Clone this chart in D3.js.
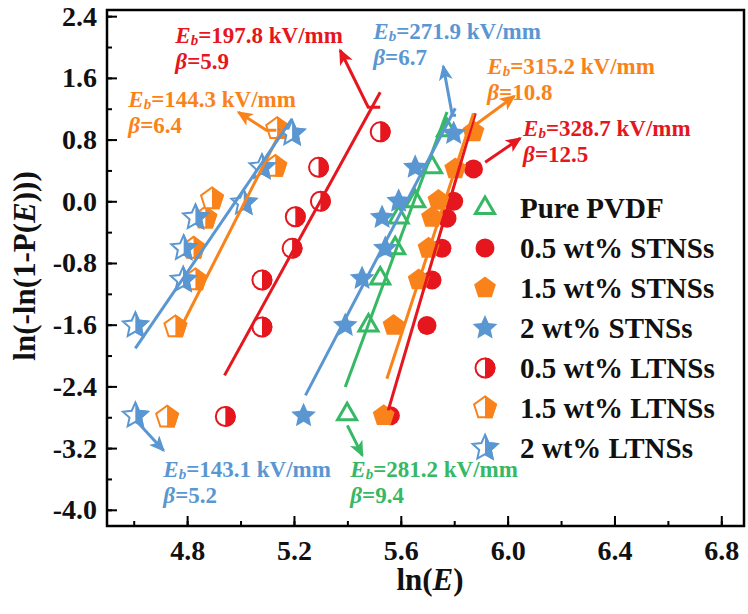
<!DOCTYPE html>
<html><head><meta charset="utf-8">
<script src="https://cdn.jsdelivr.net/npm/d3@7"></script>
<style>body{margin:0;background:#fff}svg{display:block}</style>
</head><body><svg id="c" width="748" height="614"></svg>
<script>
// ---------- data ----------
const xTicks = [4.8, 5.2, 5.6, 6.0, 6.4, 6.8];
const yTicks = [2.4, 1.6, 0.8, 0.0, -0.8, -1.6, -2.4, -3.2, -4.0];
const seriesNames = ["Pure PVDF", "0.5 wt% STNSs", "1.5 wt% STNSs", "2 wt% STNSs", "0.5 wt% LTNSs", "1.5 wt% LTNSs", "2 wt% LTNSs"];

const pvdfX = [5.399, 5.479, 5.523, 5.579, 5.592, 5.654, 5.717, 5.773];
const pvdfY = [-2.76, -1.61, -1.00, -0.61, -0.21, 0.00, 0.44, 0.92];
const s05X = [5.561, 5.698, 5.717, 5.754, 5.773, 5.798, 5.872];
const s05Y = [-2.78, -1.61, -1.02, -0.61, -0.22, 0.00, 0.42];
const s15X = [5.536, 5.573, 5.667, 5.704, 5.717, 5.741, 5.804, 5.872];
const s15Y = [-2.78, -1.61, -1.02, -0.61, -0.21, 0.01, 0.42, 0.90];
const s2X = [5.236, 5.392, 5.455, 5.542, 5.530, 5.592, 5.654, 5.798];
const s2Y = [-2.78, -1.61, -1.00, -0.61, -0.21, 0.00, 0.44, 0.88];
const l05X = [4.943, 5.080, 5.080, 5.193, 5.205, 5.299, 5.292, 5.523];
const l05Y = [-2.79, -1.63, -1.02, -0.61, -0.20, 0.00, 0.44, 0.90];
const l15X = [4.725, 4.756, 4.831, 4.824, 4.868, 4.893, 5.130, 5.137];
const l15Y = [-2.80, -1.63, -1.02, -0.61, -0.22, 0.03, 0.45, 0.94];
const l2X = [4.606, 4.606, 4.785, 4.787, 4.831, 5.012, 5.080, 5.193];
const l2Y = [-2.78, -1.61, -1.02, -0.61, -0.21, -0.02, 0.44, 0.88];

// fitted lines: [xStart, yStart, xEnd, yEnd]
const fitPVDF = [5.392, -2.409, 5.773, 1.158];
const fitS05 = [5.553, -2.711, 5.879, 1.141];
const fitS15 = [5.548, -2.300, 5.872, 1.137];
const fitS2 = [5.243, -2.516, 5.804, 1.206];
const fitL05 = [4.940, -2.257, 5.523, 1.414];
const fitL15 = [4.775, -1.650, 5.168, 1.025];
const fitL2 = [4.606, -1.907, 5.193, 1.070];

const ebValues = ["281.2", "328.7", "315.2", "271.9", "197.8", "144.3", "143.1"];
const betaValues = ["9.4", "12.5", "10.8", "6.7", "5.9", "6.4", "5.2"];

// ---------- annotation layout (data units) ----------
const labelX = [5.411, 6.058, 5.924, 5.497, 4.756, 4.580, 4.711];
const labelY = [-3.58, 0.843, 1.647, 2.101, 2.049, 1.219, -3.58];
const arrowPaths = [
  [[5.400, -2.905], [5.456, -3.294]],
  [[5.916, 0.506], [6.047, 0.817]],
  [[5.882, 0.999], [6.025, 1.362]],
  [[5.807, 1.115], [5.793, 1.115], [5.759, 1.751]],
  [[5.523, 1.219], [5.478, 1.219], [5.373, 1.958]],
  [[5.134, 0.921], [5.097, 0.921], [4.992, 1.154]],
  [[4.618, -2.879], [4.712, -3.230]]
];

// ---------- styles ----------
const RED = "#E5161E", ORANGE = "#F9831A", BLUE = "#5A97D2", GREEN = "#36B864";
const series = [
  {xs: pvdfX, ys: pvdfY, fit: fitPVDF, color: GREEN, shape: "tri", fill: "open"},
  {xs: s05X, ys: s05Y, fit: fitS05, color: RED, shape: "circle", fill: "full"},
  {xs: s15X, ys: s15Y, fit: fitS15, color: ORANGE, shape: "penta", fill: "full"},
  {xs: s2X, ys: s2Y, fit: fitS2, color: BLUE, shape: "star", fill: "full"},
  {xs: l05X, ys: l05Y, fit: fitL05, color: RED, shape: "circle", fill: "half"},
  {xs: l15X, ys: l15Y, fit: fitL15, color: ORANGE, shape: "penta", fill: "half"},
  {xs: l2X, ys: l2Y, fit: fitL2, color: BLUE, shape: "star", fill: "half"}
];

const FONT = "'Liberation Serif','Times New Roman',serif";
const svg = d3.select("#c");
const L = 107, R = 744, T = 10, B = 526;
const x = d3.scaleLinear().domain([4.5, 6.885]).range([L, R]);
const y = d3.scaleLinear().domain([-4.21, 2.48]).range([B, T]);

// shapes
function polyPath(n, rOut, rIn) {
  const pts = [];
  const m = rIn ? n * 2 : n;
  for (let i = 0; i < m; i++) {
    const r = rIn ? (i % 2 === 0 ? rOut : rIn) : rOut;
    const a = -Math.PI / 2 + i * 2 * Math.PI / m;
    pts.push([r * Math.cos(a), r * Math.sin(a)]);
  }
  return "M" + pts.map(p => p[0].toFixed(2) + "," + p[1].toFixed(2)).join("L") + "Z";
}
const shapePaths = {
  tri: (() => { const R0 = 11; return `M0,${-R0}L${(R0*0.866).toFixed(2)},${R0/2}L${(-R0*0.866).toFixed(2)},${R0/2}Z`; })(),
  circle: d3.symbol(d3.symbolCircle, Math.PI * 9.5 * 9.5)(),
  penta: polyPath(5, 11.5),
  star: polyPath(5, 13, 13 * 0.47)
};

const defs = svg.append("defs");
defs.append("clipPath").attr("id", "rhalf").append("rect")
  .attr("x", 0).attr("y", -20).attr("width", 20).attr("height", 40);
const plotClip = defs.append("clipPath").attr("id", "plot");
plotClip.append("rect").attr("x", L).attr("y", T).attr("width", R - L).attr("height", B - T);
[RED, ORANGE, BLUE, GREEN].forEach((c, i) => {
  defs.append("marker").attr("id", "ah" + i)
    .attr("viewBox", "0 -7 16 14").attr("refX", 14).attr("refY", 0)
    .attr("markerWidth", 16).attr("markerHeight", 14).attr("markerUnits", "userSpaceOnUse")
    .attr("orient", "auto")
    .append("path").attr("d", "M0,-7L16,0L0,7L4,0Z").attr("fill", c);
});
const markerId = c => "url(#ah" + [RED, ORANGE, BLUE, GREEN].indexOf(c) + ")";

function drawMarker(g, s) {
  const d = shapePaths[s.shape];
  if (s.fill === "full") {
    g.append("path").attr("d", d).attr("fill", s.color);
  } else if (s.fill === "open") {
    g.append("path").attr("d", d).attr("fill", "#fff").attr("stroke", s.color).attr("stroke-width", 3).attr("stroke-linejoin", "miter");
  } else {
    g.append("path").attr("d", d).attr("fill", "#fff").attr("stroke", s.color).attr("stroke-width", 2);
    g.append("path").attr("d", d).attr("fill", s.color).attr("stroke", s.color).attr("stroke-width", 2).attr("clip-path", "url(#rhalf)");
  }
}

// axes
const axL = d3.axisLeft(y).tickValues(yTicks).tickSizeInner(-10).tickSizeOuter(0).tickPadding(10).tickFormat(d => d.toFixed(1));
const axLm = d3.axisLeft(y).tickValues(d3.range(-4.0, 2.41, 0.4).map(v => +v.toFixed(1))).tickSizeInner(-5).tickSizeOuter(0).tickFormat("");
const axB = d3.axisBottom(x).tickValues(xTicks).tickSizeInner(-10).tickSizeOuter(0).tickPadding(14).tickFormat(d => d.toFixed(1));
const axBm = d3.axisBottom(x).tickValues(d3.range(4.6, 6.81, 0.2).map(v => +v.toFixed(1))).tickSizeInner(-5).tickSizeOuter(0).tickFormat("");

function styleAxis(g) {
  g.select(".domain").remove();
  g.selectAll("line").attr("stroke", "#000").attr("stroke-width", 2);
  g.selectAll("text").attr("font-family", FONT).attr("font-weight", "bold").attr("font-size", 28).attr("fill", "#111");
}
svg.append("g").attr("transform", `translate(${L},0)`).call(axLm).call(styleAxis);
svg.append("g").attr("transform", `translate(${L},0)`).call(axL).call(styleAxis);
svg.append("g").attr("transform", `translate(0,${B})`).call(axBm).call(styleAxis);
svg.append("g").attr("transform", `translate(0,${B})`).call(axB).call(styleAxis);

// points
const pts = svg.append("g").attr("clip-path", "url(#plot)");
series.forEach(s => {
  s.xs.forEach((xv, i) => {
    const g = pts.append("g").attr("transform", `translate(${x(xv)},${y(s.ys[i])})`);
    drawMarker(g, s);
  });
});
// fit lines
series.forEach(s => {
  pts.append("line")
    .attr("x1", x(s.fit[0])).attr("y1", y(s.fit[1]))
    .attr("x2", x(s.fit[2])).attr("y2", y(s.fit[3]))
    .attr("stroke", s.color).attr("stroke-width", 3);
});
// arrows
const lineGen = d3.line().x(d => x(d[0])).y(d => y(d[1]));
series.forEach((s, i) => {
  svg.append("path").attr("d", lineGen(arrowPaths[i]))
    .attr("fill", "none").attr("stroke", s.color).attr("stroke-width", 3)
    .attr("marker-end", markerId(s.color));
});
// annotation labels
series.forEach((s, i) => {
  const lx = x(labelX[i]);
  const t = svg.append("text").attr("x", lx).attr("y", y(labelY[i]))
    .attr("font-family", FONT).attr("font-weight", "bold").attr("font-size", 23).attr("fill", s.color);
  t.append("tspan").attr("font-style", "italic").text("E");
  t.append("tspan").attr("font-style", "italic").attr("font-size", 15).attr("dy", 2).text("b");
  t.append("tspan").attr("dy", -2).text("=" + ebValues[i] + " kV/mm");
  const t2 = svg.append("text").attr("x", lx).attr("y", y(labelY[i]) + 26)
    .attr("font-family", FONT).attr("font-weight", "bold").attr("font-size", 23).attr("fill", s.color);
  t2.append("tspan").attr("font-style", "italic").text("β");
  t2.append("tspan").text("=" + betaValues[i]);
});

// legend
const lg = svg.append("g");
series.forEach((s, i) => {
  const yy = 208 + i * 40;
  const g = lg.append("g").attr("transform", `translate(485,${yy})`);
  drawMarker(g, s);
  lg.append("text").attr("x", 520).attr("y", yy).attr("dy", "0.35em")
    .attr("font-family", FONT).attr("font-weight", "bold").attr("font-size", 29).attr("fill", "#111")
    .text(seriesNames[i]);
});

// frame
svg.append("rect").attr("x", L).attr("y", T).attr("width", R - L).attr("height", B - T)
  .attr("fill", "none").attr("stroke", "#000").attr("stroke-width", 2.5);

// axis titles
const xt = svg.append("text").attr("x", 430).attr("y", 590).attr("text-anchor", "middle")
  .attr("font-family", FONT).attr("font-weight", "bold").attr("font-size", 31).attr("fill", "#111");
xt.append("tspan").text("ln(");
xt.append("tspan").attr("font-style", "italic").text("E");
xt.append("tspan").text(")");
const yt = svg.append("text").attr("transform", "translate(35,266) rotate(-90)").attr("text-anchor", "middle")
  .attr("font-family", FONT).attr("font-weight", "bold").attr("font-size", 31).attr("fill", "#111");
yt.append("tspan").text("ln(-ln(1-P(");
yt.append("tspan").attr("font-style", "italic").text("E");
yt.append("tspan").text(")))");
</script></body></html>
